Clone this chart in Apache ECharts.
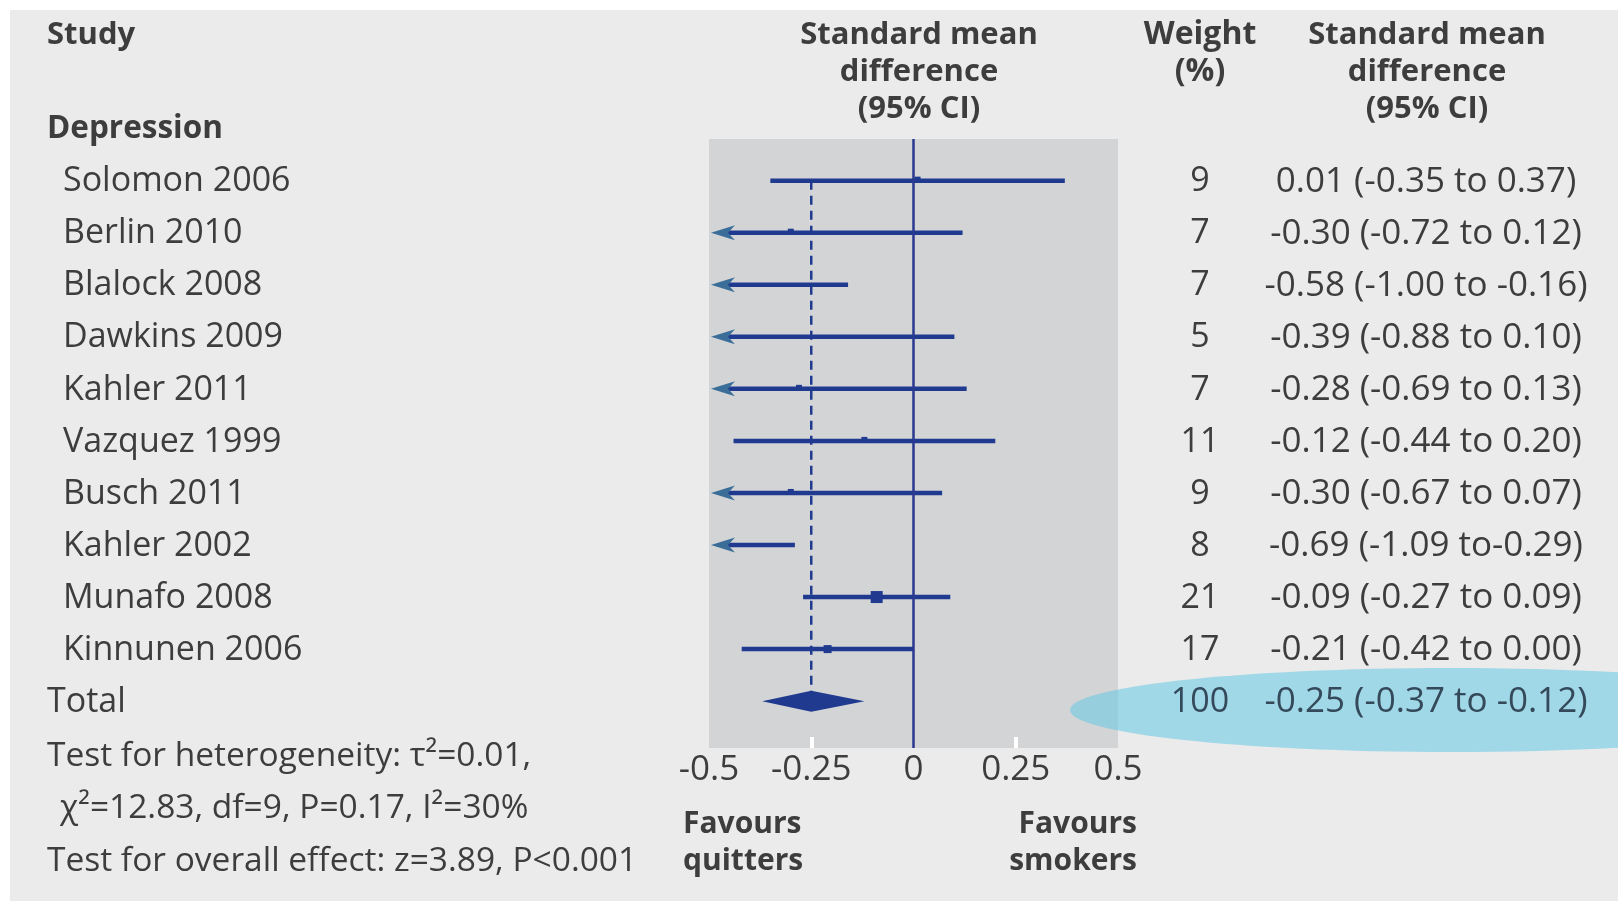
<!DOCTYPE html>
<html>
<head>
<meta charset="utf-8">
<script src="https://cdn.jsdelivr.net/npm/echarts@6/dist/echarts.min.js"></script>
<style>
html, body { margin: 0; padding: 0; background: #fff; }
#chart { width: 1618px; height: 901px; }
</style>
</head>
<body>
<div id="chart"></div>
<script>
// study rows
let studies = ['Solomon 2006', 'Berlin 2010', 'Blalock 2008', 'Dawkins 2009', 'Kahler 2011',
    'Vazquez 1999', 'Busch 2011', 'Kahler 2002', 'Munafo 2008', 'Kinnunen 2006'];
let smd = [0.01, -0.30, -0.58, -0.39, -0.28, -0.12, -0.30, -0.69, -0.09, -0.21];
let ciLow = [-0.35, -0.72, -1.00, -0.88, -0.69, -0.44, -0.67, -1.09, -0.27, -0.42];
let ciHigh = [0.37, 0.12, -0.16, 0.10, 0.13, 0.20, 0.07, -0.29, 0.09, 0.00];
let weights = [9, 7, 7, 5, 7, 11, 9, 8, 21, 17];
let ciText = ['0.01 (-0.35 to 0.37)', '-0.30 (-0.72 to 0.12)', '-0.58 (-1.00 to -0.16)',
    '-0.39 (-0.88 to 0.10)', '-0.28 (-0.69 to 0.13)', '-0.12 (-0.44 to 0.20)',
    '-0.30 (-0.67 to 0.07)', '-0.69 (-1.09 to-0.29)', '-0.09 (-0.27 to 0.09)',
    '-0.21 (-0.42 to 0.00)'];

// pooled result
let totalLabel = 'Total';
let totalSmd = -0.25;
let totalLow = -0.37;
let totalHigh = -0.12;
let totalWeight = 100;
let totalText = '-0.25 (-0.37 to -0.12)';

let xTicks = [-0.5, -0.25, 0, 0.25, 0.5];
let innerTicks = [-0.25, 0.25];

const navy = '#1f3a8f';
const txt = '#3d3d3d';
const FONT = '"Open Sans", "DejaVu Sans", sans-serif';

let ciData = [];
for (let i = 0; i < studies.length; i++) {
    ciData.push([i, ciLow[i], ciHigh[i], smd[i], weights[i]]);
}
let totalRow = studies.length;

let labelData = [];
for (let i = 0; i <= studies.length; i++) labelData.push([0, i]);

let option = {
    backgroundColor: '#ebebeb',
    animation: false,
    grid: {
        left: 709, width: 409, top: 139, height: 609,
        show: true, backgroundColor: '#d3d4d6', borderWidth: 0
    },
    xAxis: {
        type: 'value', min: -0.5, max: 0.5,
        axisLine: { show: false, onZero: false },
        splitLine: { show: false },
        axisTick: {
            show: true, inside: true, length: 11, customValues: innerTicks,
            lineStyle: { color: '#ffffff', width: 4 }
        },
        axisLabel: {
            customValues: xTicks, margin: 5,
            color: txt, fontSize: 35, fontFamily: FONT
        }
    },
    yAxis: {
        type: 'value', min: -0.8, max: 10.9, inverse: true, show: false
    },
    graphic: [
        { type: 'rect', shape: { x: 0, y: 0, width: 1618, height: 10 }, style: { fill: '#fff' } },
        { type: 'rect', shape: { x: 0, y: 0, width: 10, height: 901 }, style: { fill: '#fff' } },
        { type: 'ellipse', z: 1, shape: { cx: 1450, cy: 710, rx: 380, ry: 42 },
          style: { fill: 'rgba(100,200,230,0.55)' } },
        { type: 'text', x: 47, y: 35, style: { text: 'Study', font: 'bold 31px ' + FONT, fill: txt, textVerticalAlign: 'middle' } },
        { type: 'text', x: 919, y: 72, style: { text: 'Standard mean\ndifference\n(95% CI)', font: 'bold 31px ' + FONT, lineHeight: 37, fill: txt, textAlign: 'center', textVerticalAlign: 'middle' } },
        { type: 'text', x: 1200, y: 53, style: { text: 'Weight\n(%)', font: 'bold 32px ' + FONT, lineHeight: 37, fill: txt, textAlign: 'center', textVerticalAlign: 'middle' } },
        { type: 'text', x: 1427, y: 72, style: { text: 'Standard mean\ndifference\n(95% CI)', font: 'bold 31px ' + FONT, lineHeight: 37, fill: txt, textAlign: 'center', textVerticalAlign: 'middle' } },
        { type: 'text', x: 47, y: 129, style: { text: 'Depression', font: 'bold 31.5px ' + FONT, fill: txt, textVerticalAlign: 'middle' } },
        { type: 'text', x: 47, y: 756, style: { text: 'Test for heterogeneity: \u03c4\u00b2=0.01,', font: '33.5px ' + FONT, fill: txt, textVerticalAlign: 'middle' } },
        { type: 'text', x: 60, y: 808, style: { text: '\u03c7\u00b2=12.83, df=9, P=0.17, I\u00b2=30%', font: '33.5px ' + FONT, fill: txt, textVerticalAlign: 'middle' } },
        { type: 'text', x: 47, y: 861, style: { text: 'Test for overall effect: z=3.89, P<0.001', font: '33.5px ' + FONT, fill: txt, textVerticalAlign: 'middle' } },
        { type: 'text', x: 683, y: 843, style: { text: 'Favours\nquitters', font: 'bold 30px ' + FONT, lineHeight: 37, fill: txt, textVerticalAlign: 'middle' } },
        { type: 'text', x: 1137, y: 843, style: { text: 'Favours\nsmokers', font: 'bold 30px ' + FONT, lineHeight: 37, fill: txt, textAlign: 'right', textVerticalAlign: 'middle' } }
    ],
    series: [{
        // pooled estimate reference line and the zero line
        type: 'line',
        data: [[totalSmd, 0], [totalSmd, totalRow]],
        symbol: 'none',
        silent: true,
        lineStyle: { color: navy, width: 2.5, type: [9, 6] },
        markLine: {
            silent: true, symbol: 'none',
            label: { show: false },
            lineStyle: { color: '#2a3990', width: 2.5, type: 'solid' },
            data: [{ xAxis: 0 }]
        },
        z: 3
    }, {
        type: 'custom',
        data: ciData,
        z: 4,
        renderItem: function (params, api) {
            let row = api.value(0);
            let cs = params.coordSys;
            let left = cs.x, right = cs.x + cs.width;
            let pLo = api.coord([api.value(1), row]);
            let pHi = api.coord([api.value(2), row]);
            let pEst = api.coord([api.value(3), row]);
            let y = pLo[1];
            let clipped = pLo[0] < left;
            let x1 = clipped ? left + 14 : pLo[0];
            let x2 = Math.min(pHi[0], right);
            let children = [{
                type: 'line',
                shape: { x1: x1, y1: y, x2: x2, y2: y },
                style: { stroke: navy, lineWidth: 4.5 }
            }];
            if (clipped) {
                children.push({
                    type: 'polygon',
                    shape: { points: [[left + 2, y], [left + 26, y - 7.5], [left + 19, y], [left + 26, y + 7.5]] },
                    style: { fill: '#3a6d98' }
                });
            }
            let w = api.value(4);
            let s = w < 7 ? 0 : Math.max(6, w - 9);
            if (s > 0 && pEst[0] > left) {
                children.push({
                    type: 'rect',
                    shape: { x: pEst[0] - s / 2, y: y - s / 2 - (s < 8 ? 1 : 0), width: s, height: s },
                    style: { fill: navy }
                });
            }
            return { type: 'group', children: children };
        }
    }, {
        // pooled diamond
        type: 'custom',
        data: [[totalRow, totalLow, totalHigh, totalSmd]],
        z: 5,
        renderItem: function (params, api) {
            let row = api.value(0);
            let pLo = api.coord([api.value(1), row]);
            let pHi = api.coord([api.value(2), row]);
            let pEst = api.coord([api.value(3), row]);
            let y = pEst[1];
            return {
                type: 'polygon',
                shape: { points: [[pLo[0], y], [pEst[0], y - 10.5], [pHi[0], y], [pEst[0], y + 10.5]] },
                style: { fill: navy }
            };
        }
    }, {
        // text columns
        type: 'custom',
        data: labelData,
        z: 6,
        clip: false,
        renderItem: function (params, api) {
            let i = params.dataIndex;
            let y = api.coord([0, api.value(1)])[1] + 1;
            let isTotal = i === studies.length;
            let col = isTotal ? '#34495a' : txt;
            return {
                type: 'group',
                children: [{
                    type: 'text', x: isTotal ? 47 : 63, y: y,
                    style: { text: isTotal ? totalLabel : studies[i], font: '34px ' + FONT, fill: txt, textVerticalAlign: 'middle' }
                }, {
                    type: 'text', x: 1200, y: y,
                    style: { text: String(isTotal ? totalWeight : weights[i]), font: '34px ' + FONT, fill: col, textAlign: 'center', textVerticalAlign: 'middle' }
                }, {
                    type: 'text', x: 1426, y: y,
                    style: { text: isTotal ? totalText : ciText[i], font: '35px ' + FONT, fill: col, textAlign: 'center', textVerticalAlign: 'middle' }
                }]
            };
        }
    }]
};

let myChart = echarts.init(document.getElementById('chart'));
myChart.setOption(option);
</script>
</body>
</html>
